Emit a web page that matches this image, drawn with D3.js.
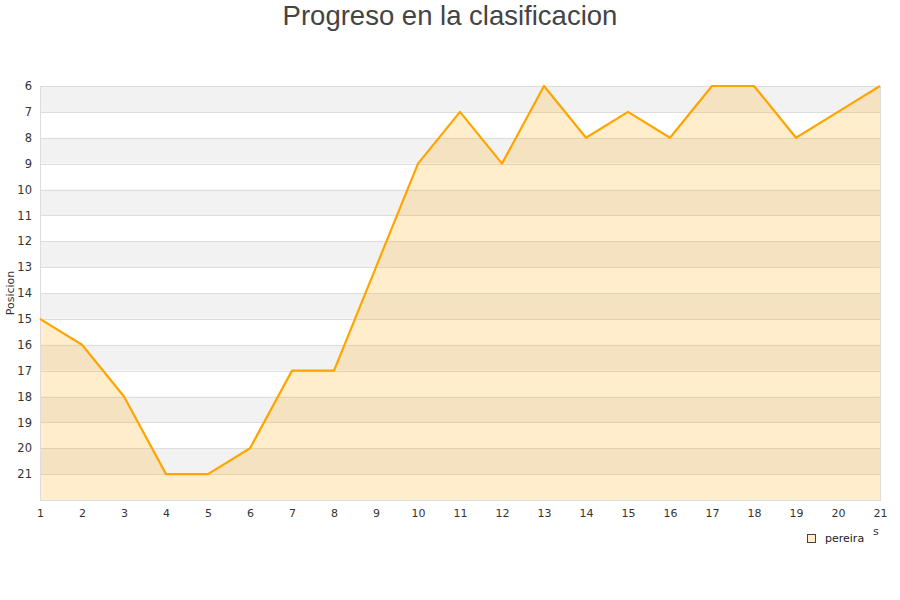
<!DOCTYPE html>
<html><head><meta charset="utf-8">
<script src="https://cdn.jsdelivr.net/npm/d3@7"></script>
<style>body{margin:0;background:#fff}svg{display:block}</style>
</head><body><svg id="c" width="900" height="600"></svg>
<script>
const jornadas = [1,2,3,4,5,6,7,8,9,10,11,12,13,14,15,16,17,18,19,20,21];
const posicion = [15,16,18,21,21,20,17,17,13,9,7,9,6,8,7,8,6,6,8,7,6];
const yTicks = [6,7,8,9,10,11,12,13,14,15,16,17,18,19,20,21];
const seriesName = "pereira";
const title = "Progreso en la clasificacion";
const yLabel = "Posicion";

const svg = d3.select("#c");
const L = 40, R = 880, T = 86, B = 500;
const x = d3.scaleLinear().domain([1,21]).range([L,R]);
const y = d3.scaleLinear().domain([6,22]).range([T,B]);
const font = "DejaVu Sans, sans-serif";

const bands = d3.range(6,22);
svg.append("g").selectAll("rect").data(bands).join("rect")
  .attr("x", L).attr("width", R-L)
  .attr("y", d=>y(d)).attr("height", d=>y(d+1)-y(d))
  .attr("fill", d=> (d%2===0) ? "#f2f2f2" : "#ffffff");
svg.append("g").selectAll("line").data(d3.range(6,23)).join("line")
  .attr("x1", L).attr("x2", R).attr("y1", d=>Math.round(y(d))+0.5).attr("y2", d=>Math.round(y(d))+0.5)
  .attr("stroke", "#dddddd").attr("stroke-width", 1);

const area = d3.area().x((d,i)=>x(jornadas[i])).y0(y(22)).y1(d=>y(d));
svg.append("path").datum(posicion).attr("d", area)
  .attr("fill", "rgba(255,165,0,0.2)");
svg.append("rect").attr("x",L+0.5).attr("y",T+0.5).attr("width",R-L).attr("height",B-T)
  .attr("fill","none").attr("stroke","#dddddd");

const line = d3.line().x((d,i)=>x(jornadas[i])).y(d=>y(d));
svg.append("path").datum(posicion).attr("d", line)
  .attr("fill","none").attr("stroke","#ffa500").attr("stroke-width",2.2).attr("stroke-linejoin","round");

const yAxis = d3.axisLeft(y).tickValues(yTicks).tickSize(0).tickPadding(8);
const gy = svg.append("g").attr("transform",`translate(${L},0)`).call(yAxis);
gy.select(".domain").remove();
gy.selectAll("text").attr("font-family",font).attr("font-size",11.5).attr("fill","#333");

const xAxis = d3.axisBottom(x).tickValues(jornadas).tickSize(0).tickPadding(9);
const gx = svg.append("g").attr("transform",`translate(0,${B})`).call(xAxis);
gx.select(".domain").remove();
gx.selectAll("text").attr("font-family",font).attr("font-size",11).attr("fill","#333");

svg.append("text").attr("x",450).attr("y",25).attr("text-anchor","middle")
  .attr("font-family","Liberation Sans, Arial, sans-serif").attr("font-size",27.5).attr("fill","#444").text(title);
svg.append("text").attr("transform","translate(14,293) rotate(-90)").attr("text-anchor","middle")
  .attr("font-family",font).attr("font-size",11).attr("fill","#333").text(yLabel);
svg.append("text").attr("x",873).attr("y",535).attr("font-family",font).attr("font-size",11).attr("fill","#333").text("s");

svg.append("rect").attr("x",807.5).attr("y",534.5).attr("width",8).attr("height",8)
  .attr("fill","#ffedcc").attr("stroke","#444").attr("stroke-width",1);
svg.append("text").attr("x",825).attr("y",542).attr("font-family",font).attr("font-size",11).attr("fill","#222").text(seriesName);
</script></body></html>
